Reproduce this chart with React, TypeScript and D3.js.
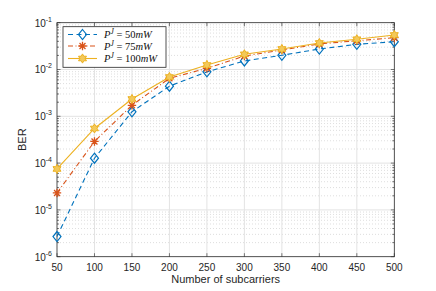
import React, { useEffect, useRef } from 'react';
import * as d3 from 'd3';

const subcarriers = [50, 100, 150, 200, 250, 300, 350, 400, 450, 500];
const ber50 = [2.7e-6, 1.27e-4, 1.25e-3, 4.4e-3, 8.9e-3, 0.0152, 0.0201, 0.0274, 0.0345, 0.0393];
const ber75 = [2.3e-5, 2.9e-4, 1.72e-3, 6.5e-3, 0.0106, 0.0194, 0.0261, 0.0351, 0.0412, 0.0478];
const ber100 = [7.5e-5, 5.5e-4, 2.34e-3, 6.9e-3, 0.0125, 0.0211, 0.0274, 0.0368, 0.0442, 0.0546];
const seriesNames = ['50', '75', '100'];
const xTicks = [50, 100, 150, 200, 250, 300, 350, 400, 450, 500];
const yExps = [-6, -5, -4, -3, -2, -1];

function App() {
  const ref = useRef(null);

  useEffect(() => {
    const width = 436;
    const height = 291;
    const margin = { top: 22.7, right: 41.7, bottom: 34.3, left: 57 };
    const w = width - margin.left - margin.right;
    const h = height - margin.top - margin.bottom;

    d3.select(ref.current).select('svg').remove();
    const root = d3.select(ref.current)
      .append('svg')
      .attr('width', width)
      .attr('height', height)
      .style('display', 'block')
      .style('font-family', 'Liberation Sans, Arial, sans-serif');

    const svg = root.append('g').attr('transform', `translate(${margin.left},${margin.top})`);

    const x = d3.scaleLinear().domain([50, 500]).range([0, w]);
    const y = d3.scaleLog().domain([1e-6, 1e-1]).range([h, 0]);

    // minor grid (dotted, y only)
    const minors = [];
    for (let e = -6; e < -1; e++) {
      for (let k = 2; k <= 9; k++) minors.push(k * Math.pow(10, e));
    }
    svg.append('g').selectAll('line').data(minors).join('line')
      .attr('x1', 0).attr('x2', w)
      .attr('y1', d => y(d)).attr('y2', d => y(d))
      .attr('stroke', '#c8c8c8').attr('stroke-width', 0.6)
      .attr('stroke-dasharray', '1,2');

    // major grid
    svg.append('g').selectAll('line').data(xTicks.slice(1, -1)).join('line')
      .attr('x1', d => x(d)).attr('x2', d => x(d))
      .attr('y1', 0).attr('y2', h)
      .attr('stroke', '#e3e3e3').attr('stroke-width', 1);
    svg.append('g').selectAll('line').data(yExps.slice(1, -1)).join('line')
      .attr('x1', 0).attr('x2', w)
      .attr('y1', d => y(Math.pow(10, d))).attr('y2', d => y(Math.pow(10, d)))
      .attr('stroke', '#e3e3e3').attr('stroke-width', 1);

    const axisColor = '#262626';
    // ticks (inward, all four sides)
    const tk = svg.append('g').attr('stroke', axisColor).attr('stroke-width', 0.6);
    xTicks.forEach(t => {
      tk.append('line').attr('x1', x(t)).attr('x2', x(t)).attr('y1', h).attr('y2', h - 3.5);
      tk.append('line').attr('x1', x(t)).attr('x2', x(t)).attr('y1', 0).attr('y2', 3.5);
    });
    yExps.forEach(e => {
      const yy = y(Math.pow(10, e));
      tk.append('line').attr('x1', 0).attr('x2', 3.5).attr('y1', yy).attr('y2', yy);
      tk.append('line').attr('x1', w).attr('x2', w - 3.5).attr('y1', yy).attr('y2', yy);
    });
    minors.forEach(m => {
      const yy = y(m);
      tk.append('line').attr('x1', 0).attr('x2', 2).attr('y1', yy).attr('y2', yy);
      tk.append('line').attr('x1', w).attr('x2', w - 2).attr('y1', yy).attr('y2', yy);
    });

    // box
    svg.append('rect').attr('x', 0).attr('y', 0).attr('width', w).attr('height', h)
      .attr('fill', 'none').attr('stroke', axisColor).attr('stroke-width', 0.8);

    // tick labels
    svg.append('g').selectAll('text').data(xTicks).join('text')
      .attr('x', d => x(d)).attr('y', h + 14)
      .attr('text-anchor', 'middle').attr('font-size', 10).attr('fill', axisColor)
      .text(d => d);
    const yl = svg.append('g');
    yExps.forEach(e => {
      const t = yl.append('text')
        .attr('x', -5).attr('y', y(Math.pow(10, e)) + 4)
        .attr('text-anchor', 'end').attr('font-size', 10).attr('fill', axisColor);
      t.append('tspan').text('10');
      t.append('tspan').attr('dy', -5).attr('font-size', 7).text(String(e));
    });

    // axis titles
    root.append('text')
      .attr('x', margin.left + w / 2).attr('y', 283)
      .attr('text-anchor', 'middle').attr('font-size', 11).attr('fill', axisColor)
      .text('Number of subcarriers');
    root.append('text')
      .attr('transform', `translate(26,${margin.top + h / 2}) rotate(-90)`)
      .attr('text-anchor', 'middle').attr('font-size', 11).attr('fill', axisColor)
      .text('BER');

    const colors = ['#0072BD', '#D95319', '#EDB120'];
    const dashes = ['5,3.5', '5,2.5,1,2.5', null];
    const data = [ber50, ber75, ber100];

    const line = d3.line().x(d => x(d[0])).y(d => y(d[1]));

    const drawMarker = (g, i, cx, cy) => {
      const c = colors[i];
      if (i === 0) {
        g.append('path')
          .attr('d', `M${cx},${cy - 5}L${cx + 4},${cy}L${cx},${cy + 5}L${cx - 4},${cy}Z`)
          .attr('fill', 'none').attr('stroke', c).attr('stroke-width', 1.2);
      } else if (i === 1) {
        const r = 4.2;
        let p = '';
        for (let k = 0; k < 4; k++) {
          const a = (k * Math.PI) / 4;
          p += `M${cx - r * Math.cos(a)},${cy - r * Math.sin(a)}L${cx + r * Math.cos(a)},${cy + r * Math.sin(a)}`;
        }
        g.append('path').attr('d', p).attr('stroke', c).attr('stroke-width', 1.3).attr('fill', 'none');
      } else {
        const ro = 4.6, ri = 2.6;
        const pts = [];
        for (let k = 0; k < 12; k++) {
          const a = -Math.PI / 2 + (k * Math.PI) / 6;
          const r = k % 2 === 0 ? ro : ri;
          pts.push([cx + r * Math.cos(a), cy + r * Math.sin(a)]);
        }
        g.append('path').attr('d', 'M' + pts.map(p => p.join(',')).join('L') + 'Z')
          .attr('fill', '#f3c95a').attr('stroke', c).attr('stroke-width', 1);
      }
    };

    data.forEach((vals, i) => {
      const pts = subcarriers.map((s, j) => [s, vals[j]]);
      svg.append('path').datum(pts)
        .attr('d', line)
        .attr('fill', 'none').attr('stroke', colors[i]).attr('stroke-width', 1.1)
        .attr('stroke-dasharray', dashes[i]);
      const mg = svg.append('g');
      pts.forEach(p => drawMarker(mg, i, x(p[0]), y(p[1])));
    });

    // legend
    const lg = root.append('g');
    lg.append('rect').attr('x', 63).attr('y', 26.7).attr('width', 103).attr('height', 40.6)
      .attr('fill', 'white').attr('stroke', axisColor).attr('stroke-width', 0.8);
    const rows = [34.5, 46, 58.5];
    seriesNames.forEach((n, i) => {
      const yy = rows[i];
      lg.append('line').attr('x1', 68).attr('x2', 97).attr('y1', yy).attr('y2', yy)
        .attr('stroke', colors[i]).attr('stroke-width', 1.1).attr('stroke-dasharray', dashes[i]);
      drawMarker(lg, i, 82.5, yy);
      const t = lg.append('text').attr('x', 104).attr('y', yy + 3.5)
        .attr('font-family', 'Liberation Serif, serif').attr('font-size', 10.5).attr('fill', '#111');
      t.append('tspan').attr('font-style', 'italic').text('P');
      t.append('tspan').attr('font-style', 'italic').attr('dy', -4).attr('font-size', 7.5).text('J');
      t.append('tspan').attr('dy', 4).text(` = ${n}`);
      t.append('tspan').attr('font-style', 'italic').text('mW');
    });
  }, []);

  return <div ref={ref} style={{ margin: -8 }} />;
}

export default App;
